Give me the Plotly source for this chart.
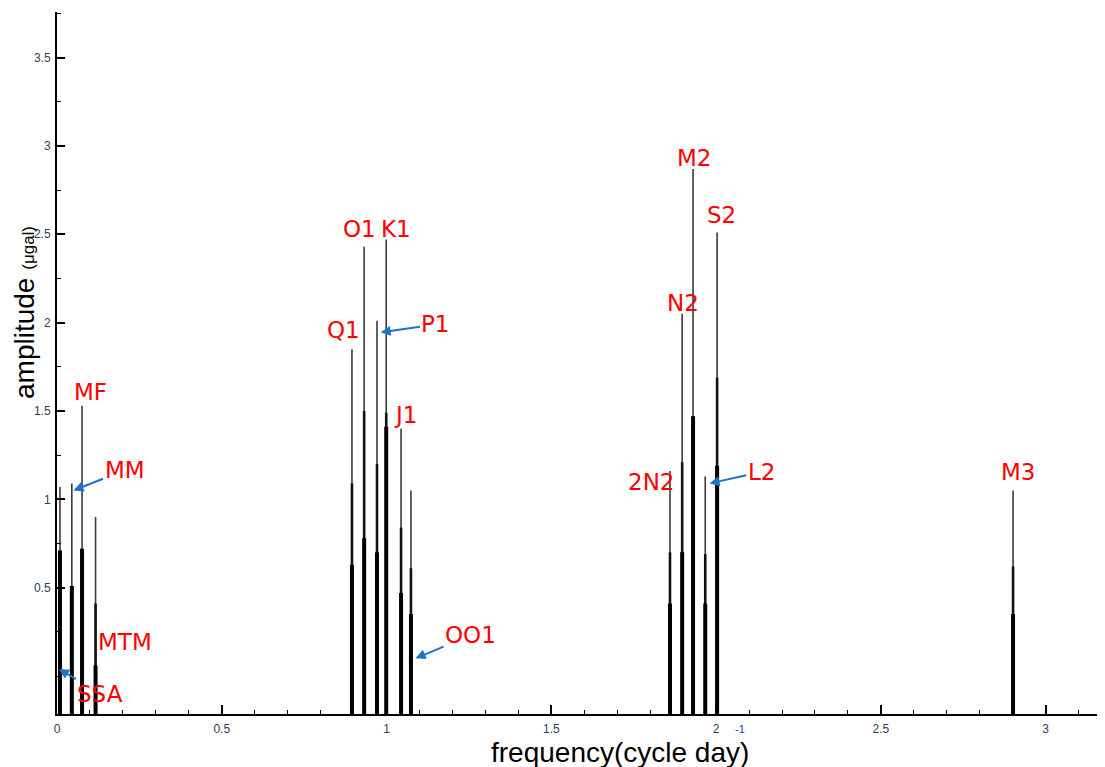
import plotly.graph_objects as go

# ---- data ----
names = ["SSA", "MM", "MF", "MTM", "Q1", "O1", "P1", "K1", "J1", "OO1",
         "2N2", "N2", "M2", "L2", "S2", "M3"]
freq = [0.009, 0.045, 0.076, 0.117, 0.895, 0.932, 0.971, 0.999, 1.044, 1.074,
        1.860, 1.897, 1.930, 1.967, 2.003, 2.901]
amp_top = [1.07, 1.09, 1.53, 0.90, 1.85, 2.43, 2.01, 2.47, 1.40, 1.05,
           1.16, 2.05, 2.87, 1.13, 2.51, 1.05]
amp_mid = [0.71, 0.51, 0.72, 0.41, 1.09, 1.50, 1.20, 1.49, 0.84, 0.61,
           0.70, 1.21, 1.47, 0.69, 1.69, 0.62]
amp_low = [0.71, 0.51, 0.72, 0.06, 0.63, 0.78, 0.70, 1.41, 0.47, 0.35,
           0.41, 0.70, 1.47, 0.41, 1.19, 0.35]

x_ticks = [0, 0.5, 1, 1.5, 2, 2.5, 3]
x_ticktext = ["0", "0.5", "1", "1.5", "2", "2.5", "3"]
y_ticks = [0.5, 1, 1.5, 2, 2.5, 3, 3.5]
y_ticktext = ["0.5", "1", "1.5", "2", "2.5", "3", "3.5"]

# ---- axis geometry ----
Y_MIN, Y_MAX = -0.215, 3.758
X_MIN, X_MAX = 0.0, 3.18


def stems(values):
    xs, ys = [], []
    for f, v in zip(freq, values):
        xs += [f, f, None]
        ys += [Y_MIN, v, None]
    return xs, ys


fig = go.Figure()
for vals, w, col in [(amp_top, 1.6, "#3a3a3a"), (amp_mid, 2.6, "#111111"),
                     (amp_low, 4.0, "#000000")]:
    xs, ys = stems(vals)
    fig.add_trace(go.Scatter(x=xs, y=ys, mode="lines",
                             line=dict(color=col, width=w),
                             hoverinfo="skip", showlegend=False))

# label placement (text centres in data units) and optional arrow tips
label_pos = {
    "SSA": (0.13, -0.10, (0.006, 0.04)),
    "MTM": (0.205, 0.19, None),
    "MM": (0.205, 1.165, (0.05, 1.05)),
    "MF": (0.103, 1.61, None),
    "Q1": (0.868, 1.96, None),
    "O1": (0.917, 2.53, None),
    "K1": (1.030, 2.53, None),
    "P1": (1.150, 1.99, (0.982, 1.945)),
    "J1": (1.056, 1.48, None),
    "OO1": (1.255, 0.23, (1.088, 0.10)),
    "2N2": (1.803, 1.10, None),
    "N2": (1.900, 2.11, None),
    "M2": (1.933, 2.93, None),
    "S2": (2.015, 2.61, None),
    "L2": (2.137, 1.155, (1.980, 1.09)),
    "M3": (2.917, 1.155, None),
}
red_font = dict(family="DejaVu Sans", size=23, color="#ff0000")
annotations = []
for n in names:
    tx, ty, tip = label_pos[n]
    if tip is None:
        annotations.append(dict(x=tx, y=ty, xref="x", yref="y", text=n,
                                showarrow=False, font=red_font,
                                xanchor="center", yanchor="middle"))
    else:
        annotations.append(dict(x=tip[0], y=tip[1], xref="x", yref="y",
                                ax=tx, ay=ty, axref="x", ayref="y", text=n,
                                showarrow=True, arrowhead=2, arrowsize=1,
                                arrowwidth=2, arrowcolor="#1b74c9",
                                font=red_font, xanchor="center",
                                yanchor="middle"))

annotations += [
    dict(x=-0.031, y=0.572, xref="paper", yref="paper", textangle=-90,
         text="amplitude <span style='font-size:17px'>(\u03bcgal)</span>",
         showarrow=False, font=dict(family="Liberation Sans", size=28,
                                    color="#000000"),
         xanchor="center", yanchor="middle"),
    dict(x=0.537, y=-0.055, xref="paper", yref="paper",
         text="frequency(cycle day)", showarrow=False,
         font=dict(family="Liberation Sans", size=28, color="#000000"),
         xanchor="center", yanchor="middle"),
    dict(x=0.652, y=-0.022, xref="paper", yref="paper", text="-1",
         showarrow=False,
         font=dict(family="Liberation Sans", size=11, color="#2040b0"),
         xanchor="center", yanchor="middle"),
]

tick_font = dict(family="Liberation Sans", size=12, color="#2f3d5c")
fig.update_layout(
    width=1105, height=767,
    margin=dict(l=49, r=8, t=4, b=61),
    paper_bgcolor="white", plot_bgcolor="white",
    showlegend=False,
    annotations=annotations,
    xaxis=dict(range=[X_MIN, X_MAX], showgrid=False, zeroline=False,
               showline=True, linecolor="black", linewidth=2,
               tickmode="array", tickvals=x_ticks, ticktext=x_ticktext,
               ticks="inside", ticklen=9, tickwidth=1.5, tickcolor="black",
               ticklabelstandoff=3, tickfont=tick_font,
               minor=dict(dtick=0.1, tick0=0, ticks="inside", ticklen=4,
                          tickwidth=1.2, tickcolor="black", showgrid=False)),
    yaxis=dict(range=[Y_MIN, Y_MAX], showgrid=False, zeroline=False,
               showline=True, linecolor="black", linewidth=2,
               tickmode="array", tickvals=y_ticks, ticktext=y_ticktext,
               ticks="inside", ticklen=8, tickwidth=1.5, tickcolor="black",
               ticklabelstandoff=2, tickfont=tick_font,
               minor=dict(dtick=0.25, tick0=0, ticks="inside", ticklen=4,
                          tickwidth=1.2, tickcolor="black", showgrid=False)),
)

fig.write_html("out.html")
